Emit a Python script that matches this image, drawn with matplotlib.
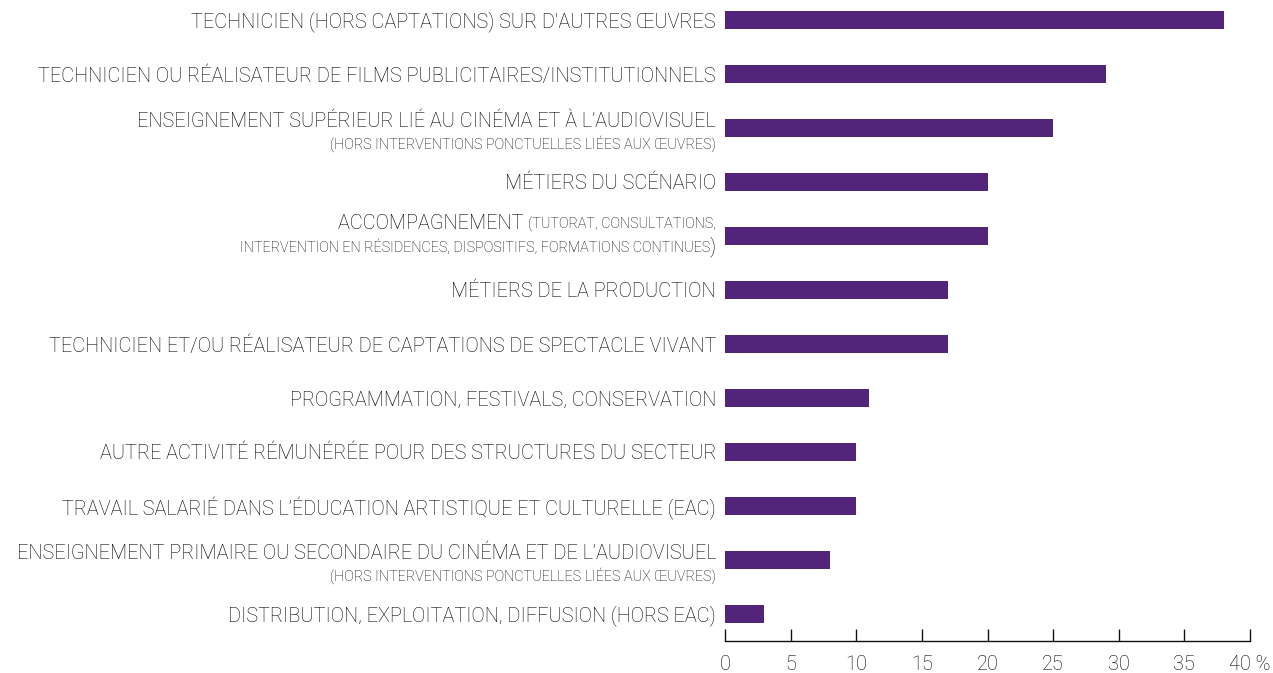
import matplotlib
matplotlib.use("Agg")
import matplotlib.pyplot as plt

# ---- data ----
values = [38, 29, 25, 20, 20, 17, 17, 11, 10, 10, 8, 3]
# each label: list of lines; each line: list of (text, is_small)
labels = [
    [[("TECHNICIEN (HORS CAPTATIONS) SUR D'AUTRES ŒUVRES", False)]],
    [[("TECHNICIEN OU RÉALISATEUR DE FILMS PUBLICITAIRES/INSTITUTIONNELS", False)]],
    [[("ENSEIGNEMENT SUPÉRIEUR LIÉ AU CINÉMA ET À L’AUDIOVISUEL", False)],
     [("(HORS INTERVENTIONS PONCTUELLES LIÉES AUX ŒUVRES)", True)]],
    [[("MÉTIERS DU SCÉNARIO", False)]],
    [[("ACCOMPAGNEMENT ", False), ("(TUTORAT, CONSULTATIONS,", True)],
     [("INTERVENTION EN RÉSIDENCES, DISPOSITIFS, FORMATIONS CONTINUES", True), (")", False)]],
    [[("MÉTIERS DE LA PRODUCTION", False)]],
    [[("TECHNICIEN ET/OU RÉALISATEUR DE CAPTATIONS DE SPECTACLE VIVANT", False)]],
    [[("PROGRAMMATION, FESTIVALS, CONSERVATION", False)]],
    [[("AUTRE ACTIVITÉ RÉMUNÉRÉE POUR DES STRUCTURES DU SECTEUR", False)]],
    [[("TRAVAIL SALARIÉ DANS L’ÉDUCATION ARTISTIQUE ET CULTURELLE (EAC)", False)]],
    [[("ENSEIGNEMENT PRIMAIRE OU SECONDAIRE DU CINÉMA ET DE L’AUDIOVISUEL", False)],
     [("(HORS INTERVENTIONS PONCTUELLES LIÉES AUX ŒUVRES)", True)]],
    [[("DISTRIBUTION, EXPLOITATION, DIFFUSION (HORS EAC)", False)]],
]
xticks = [0, 5, 10, 15, 20, 25, 30, 35, 40]
xticklabels = ["0", "5", "10", "15", "20", "25", "30", "35", "40 %"]

BAR_COLOR = "#52247a"
TEXT_COLOR = "#000000"
FAMILY = ["Roboto", "DejaVu Sans"]
WEIGHT = "light"
BIG = 14.3
SMALL = 10.4

fig = plt.figure(figsize=(12.73, 6.73), dpi=100)
H = 673
ax = fig.add_axes([725 / 1273, (H - 641) / H, (1250 - 725) / 1273, 641 / H])

y = list(range(len(values)))
ax.barh(y, values, height=0.34, color=BAR_COLOR)
ax.set_xlim(0, 40)
ax.set_ylim(11.5, -0.37)

for s in ["top", "right", "left"]:
    ax.spines[s].set_visible(False)
ax.spines["bottom"].set_color("#111111")
ax.spines["bottom"].set_linewidth(1.0)
ax.set_yticks([])
ax.set_xticks(xticks)
ax.set_xticklabels(xticklabels, fontsize=BIG, family=FAMILY, weight=WEIGHT, color=TEXT_COLOR)
ax.tick_params(axis="x", direction="in", length=9, width=1.0, color="#111111", pad=10)

# line vertical offsets (pixels, positive = down) relative to bar centre
def line_offsets(lbl):
    if len(lbl) == 1:
        return [2]
    if lbl[1][-1][0] == ")":
        return [-12, 11]
    return [-6, 16]

renderer = fig.canvas.get_renderer()
RIGHT_PX = -9  # right edge of labels relative to x=0 of the axes

for i, lbl in enumerate(labels):
    offs = line_offsets(lbl)
    for line, dy in zip(lbl, offs):
        x_off = RIGHT_PX
        for text, small in reversed(line):
            t = ax.annotate(text, xy=(0, i), xycoords="data",
                            xytext=(x_off, -dy), textcoords="offset pixels",
                            ha="right", va="center",
                            fontsize=SMALL if small else BIG, family=FAMILY,
                            weight=WEIGHT, color=TEXT_COLOR, annotation_clip=False)
            bb = t.get_window_extent(renderer=renderer)
            x_off -= bb.width

fig.savefig("out.png", dpi=100)
